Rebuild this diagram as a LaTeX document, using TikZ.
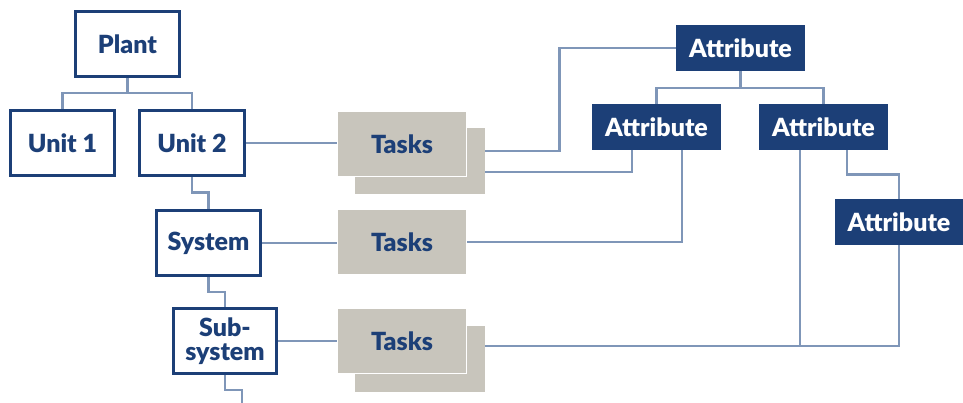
\documentclass[tikz,border=0pt]{standalone}
\usepackage{fontspec}
\setmainfont{Lato}[BoldFont={Lato Black}]
\usetikzlibrary{backgrounds}
\definecolor{navy}{HTML}{1C3F77}
\definecolor{linkc}{HTML}{7F96B8}
\definecolor{taskgrey}{HTML}{C8C5BC}
\begin{document}
\begin{tikzpicture}[x=1pt,y=-1pt,
  lbl/.style={font=\fontsize{25}{24}\selectfont\bfseries, align=center, inner sep=0pt},
  unitbox/.style={lbl, draw=navy, line width=2.8pt, fill=white, text=navy, minimum width=104pt, minimum height=65pt},
  taskback/.style={lbl, fill=taskgrey, minimum width=130pt, minimum height=66pt},
  taskfront/.style={lbl, fill=taskgrey, draw=white, line width=1pt, text=navy, minimum width=129pt, minimum height=65pt},
  attrbox/.style={lbl, fill=navy, text=white, minimum width=129pt, minimum height=46pt},
  link/.style={draw=linkc, line width=2.8pt}]
\useasboundingbox (0,0) rectangle (963,403);
% hierarchy
\node[unitbox] (plant) at (127.5,44) {Plant};
\node[unitbox] (unit1) at (62.5,143) {Unit 1};
\node[unitbox, minimum width=105pt] (unit2) at (192,143) {Unit 2};
\node[unitbox] (system) at (208.5,243) {System};
\node[unitbox, minimum width=103pt] (sub) at (225,341) {Sub-\\system};
% tasks
\node[taskback] (t1b) at (420,161.5) {};
\node[taskfront] (t1) at (402,144) {Tasks};
\node[taskfront] (t2) at (402,242) {Tasks};
\node[taskback] (t3b) at (420,359) {};
\node[taskfront] (t3) at (402,341) {Tasks};
% attributes
\node[attrbox] (atop) at (740.5,48) {Attribute};
\node[attrbox] (aL) at (656.5,127) {Attribute};
\node[attrbox] (aR) at (823.5,127) {Attribute};
\node[attrbox, minimum width=128pt] (a4) at (899,222) {Attribute};
\coordinate (pj) at (127.5,93);
\coordinate (aj) at (740.5,88);
\coordinate (subend) at (242,403);
\coordinate (t3r) at ([yshift=13pt]t3b.east);
\begin{scope}[on background layer]
\draw[link] (plant.south) -- (pj);
\draw[link] (unit1.north) |- (pj) -| (unit2.north);
\draw[link] (unit2.east) -- (unit2.east -| t1.west);
\draw[link] (unit2.south) -- ++(0,16) -| (system.north);
\draw[link] (system.east) -- (system.east -| t2.west);
\draw[link] (system.south) -- ++(0,15) -| (sub.north);
\draw[link] (sub.east) -- (sub.east -| t3.west);
\draw[link] (sub.south) -- ++(0,15) -| (subend);
\draw[link] ([yshift=10.5pt]t1b.east) -- ++(74,0) |- (atop.west);
\draw[link] (atop.south) -- (aj);
\draw[link] (aL.north) |- (aj) -| (aR.north);
\draw[link] ([xshift=-24.5pt]aL.south) |- ([yshift=-10.5pt]t1b.east);
\draw[link] ([xshift=25.5pt]aL.south) |- (t2.east);
\draw[link] ([xshift=-23.5pt]aR.south) |- (t3r);
\draw[link] (t3r) -| (a4.south);
\draw[link] ([xshift=23.5pt]aR.south) -- ++(0,24) -| (a4.north);
\end{scope}
\end{tikzpicture}
\end{document}
